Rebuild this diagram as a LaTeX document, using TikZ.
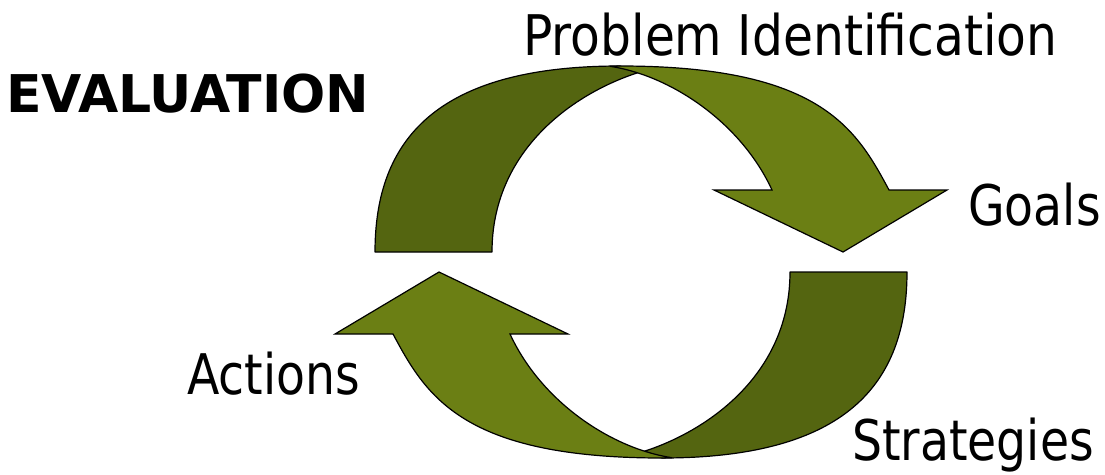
\documentclass[tikz,border=0pt]{standalone}
\usepackage{fontspec}
\newfontfamily\labfont{DejaVu Sans}[FakeStretch=0.87]
\newfontfamily\labfontn{DejaVu Sans}[FakeStretch=0.845]
\newfontfamily\evalfont{DejaVu Sans}
\definecolor{oliveL}{RGB}{107,127,20}
\definecolor{oliveD}{RGB}{84,101,16}
\tikzset{
  lab/.style={font=\labfont\fontsize{56}{66}\selectfont, inner sep=0pt, anchor=base west},
  labn/.style={font=\labfontn\fontsize{56}{66}\selectfont, inner sep=0pt, anchor=base west},
  evallab/.style={font=\evalfont\bfseries\fontsize{52}{60}\selectfont, inner sep=0pt, anchor=base west},
  backband/.style={fill=oliveD, draw=black, line width=1.2pt, line join=round},
  frontband/.style={fill=oliveL, draw=black, line width=1.2pt, line join=miter},
}
\newcommand{\arrowpiece}{%
  % back (dark) part
  \draw[backband] (375,252) .. controls (375,140) and (436,66) .. (620,66)
     -- (637.5,72.8) .. controls (571,94.5) and (492,152) .. (492,252) -- cycle;
  % front (light) part with arrow head
  \draw[frontband] (610,66.3) -- (620,66)
     .. controls (820,66) and (856,128.4) .. (889,190)
     -- (947,190) -- (843,252) -- (714,190) -- (772,190)
     .. controls (740.5,121.75) and (670,75.3) .. (610,66.3) -- cycle;
}
\begin{document}
\begin{tikzpicture}[x=1pt,y=-1pt]
\useasboundingbox (0,0) rectangle (1105,474);
\begin{scope}
  \arrowpiece
\end{scope}
\begin{scope}[rotate around={180:(641,262)}]
  \arrowpiece
\end{scope}
\node[lab] (pi) at (523,55) {Problem Identification};
\node[labn] (goals) at (968,225) {Goals};
\node[labn] (act) at (187,394) {Actions};
\node[labn] (str) at (852,460) {Strategies};
\node[evallab] (ev) at (6,112) {EVALUATION};
\end{tikzpicture}
\end{document}
